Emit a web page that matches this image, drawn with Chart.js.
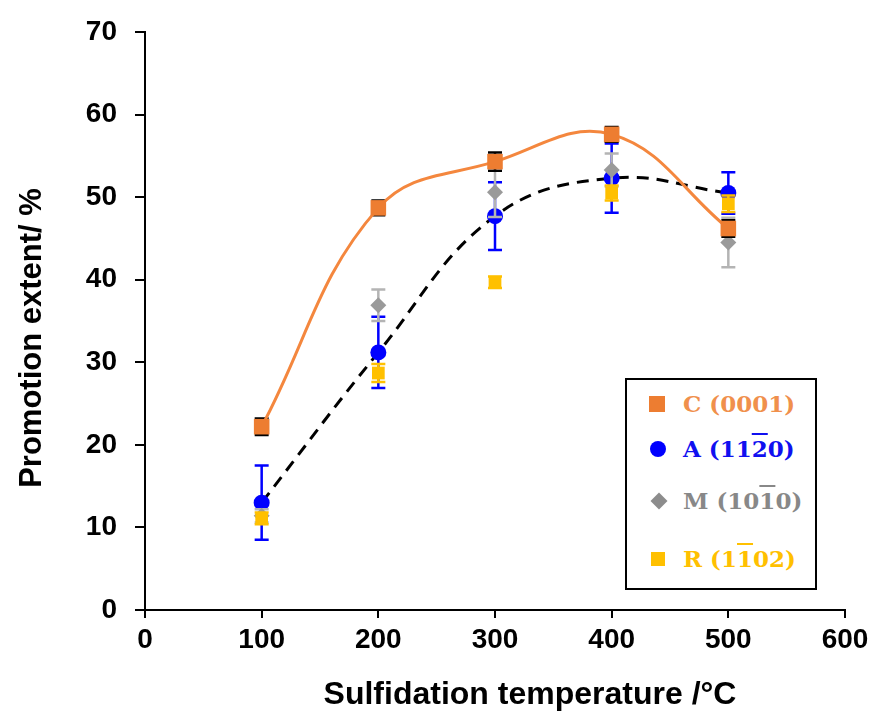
<!DOCTYPE html>
<html>
<head>
<meta charset="utf-8">
<script src="https://cdn.jsdelivr.net/npm/chart.js@4.4.0/dist/chart.umd.min.js"></script>
<style>
  body { margin: 0; background: #fff; }
  #wrap { position: relative; width: 873px; height: 716px; }
  #legenda {
    position: absolute; left: 625px; top: 378px; width: 188px; height: 208px;
    border: 2px solid #000; background: #fff;
    font-family: "DejaVu Serif", serif; font-weight: bold; font-size: 23px;
  }
  .item { position: absolute; left: 0; height: 30px; line-height: 30px; white-space: nowrap; }
  .item .txt { position: absolute; left: 56px; top: 0; }
  .mk { position: absolute; }
  .ov { text-decoration: overline; }
</style>
</head>
<body>
<div id="wrap">
  <canvas id="grafico" width="873" height="716"></canvas>
  <div id="legenda">
    <div class="item" style="top:9px">
      <div class="mk" style="left:22px;top:7px;width:16px;height:16px;background:#ED7D31"></div>
      <span class="txt" style="color:#F0904C">C (0001)</span>
    </div>
    <div class="item" style="top:54px">
      <div class="mk" style="left:23px;top:7px;width:16px;height:16px;border-radius:50%;background:#0000FF"></div>
      <span class="txt" style="color:#1010F0">A (11<span class="ov">2</span>0)</span>
    </div>
    <div class="item" style="top:106px">
      <div class="mk" style="left:26px;top:9px;width:12px;height:12px;background:#8C8C8C;transform:rotate(45deg)"></div>
      <span class="txt" style="color:#888">M (10<span class="ov">1</span>0)</span>
    </div>
    <div class="item" style="top:164px">
      <div class="mk" style="left:24px;top:8px;width:14px;height:14px;background:#FFC000"></div>
      <span class="txt" style="color:#FFC000">R (1<span class="ov">1</span>02)</span>
    </div>
  </div>
</div>
<script>
var temperaturas = [100, 200, 300, 400, 500];

var valoresC = [22.2, 48.7, 54.3, 57.6, 46.2];
var errosC   = [1.0, 0.9, 1.1, 0.9, 1.0];

var valoresA = [13.0, 31.2, 47.7, 52.3, 50.5];
var errosA   = [4.5, 4.3, 4.1, 4.2, 2.5];

var valoresM = [11.4, 36.9, 50.6, 53.3, 44.5];
var errosM   = [0.8, 1.9, 3.0, 2.0, 3.0];

var valoresR = [11.1, 28.7, 39.7, 50.5, 49.2];
var errosR   = [0.7, 1.1, 0.7, 0.9, 1.0];

var ticksX = [0, 100, 200, 300, 400, 500, 600];
var ticksY = [0, 10, 20, 30, 40, 50, 60, 70];

function pontos(valores) {
    return temperaturas.map(function (t, i) { return { x: t, y: valores[i] }; });
}

// barras de erro desenhadas com as escalas do grafico
var barrasDeErro = {
    id: 'barrasDeErro',
    beforeDatasetDraw: function (chart, args) {
        var ds = chart.data.datasets[args.index];
        if (!ds.erros) return;
        var ctx = chart.ctx;
        var sx = chart.scales.x, sy = chart.scales.y;
        ctx.save();
        ctx.strokeStyle = ds.corErro;
        ctx.lineWidth = 2.5;
        ds.data.forEach(function (p, i) {
            var x = sx.getPixelForValue(p.x);
            var y1 = sy.getPixelForValue(p.y + ds.erros[i]);
            var y2 = sy.getPixelForValue(p.y - ds.erros[i]);
            ctx.beginPath();
            ctx.moveTo(x, y1); ctx.lineTo(x, y2);
            ctx.moveTo(x - 7, y1); ctx.lineTo(x + 7, y1);
            ctx.moveTo(x - 7, y2); ctx.lineTo(x + 7, y2);
            ctx.stroke();
        });
        ctx.restore();
    }
};

var titulos = {
    id: 'titulos',
    afterDraw: function (chart) {
        var ctx = chart.ctx;
        ctx.save();
        ctx.fillStyle = '#000';
        ctx.textAlign = 'center';
        ctx.textBaseline = 'middle';
        ctx.font = 'bold 32px "Liberation Sans", Arial, sans-serif';
        ctx.fillText('Sulfidation temperature /°C', 530, 695);
        ctx.font = 'bold 31px "Liberation Sans", Arial, sans-serif';
        ctx.translate(32, 338);
        ctx.rotate(-Math.PI / 2);
        ctx.fillText('Promotion extent/ %', 0, 0);
        ctx.restore();
    }
};

var fonteTicks = { family: '"Liberation Sans", Arial, sans-serif', size: 28, weight: 'bold' };

var ctx = document.getElementById('grafico');
var grafico = new Chart(ctx, {
    type: 'line',
    data: {
        datasets: [
            {
                label: 'C (0001)', data: pontos(valoresC), erros: errosC, corErro: '#000',
                borderColor: '#F4873E', borderWidth: 3, tension: 0.4,
                pointStyle: 'rect', pointRadius: 11, pointBackgroundColor: '#ED7D31',
                pointBorderColor: '#ED7D31', pointBorderWidth: 0
            },
            {
                label: 'R', data: pontos(valoresR), erros: errosR, corErro: '#FFC000',
                showLine: false, pointStyle: 'rect', pointRadius: 9,
                pointBackgroundColor: '#FFC000', pointBorderColor: '#FFC000', pointBorderWidth: 0
            },
            {
                label: 'M', data: pontos(valoresM), erros: errosM, corErro: '#B4B4B4',
                showLine: false, pointStyle: 'rectRot', pointRadius: 8,
                pointBackgroundColor: '#9A9A9A', pointBorderColor: '#9A9A9A', pointBorderWidth: 0
            },
            {
                label: 'A', data: pontos(valoresA), erros: errosA, corErro: '#0000FF',
                borderColor: '#000', borderWidth: 3, borderDash: [12, 8], tension: 0.4,
                pointStyle: 'circle', pointRadius: 8,
                pointBackgroundColor: '#0000FF', pointBorderColor: '#0000FF', pointBorderWidth: 0
            }
        ]
    },
    options: {
        responsive: false,
        animation: false,
        layout: { padding: { top: 32, right: 28, left: 0, bottom: 0 } },
        plugins: { legend: { display: false }, tooltip: { enabled: false } },
        scales: {
            x: {
                type: 'linear', min: 0, max: 600,
                afterBuildTicks: function (s) { s.ticks = ticksX.map(function (v) { return { value: v }; }); },
                afterFit: function (s) { s.height = 106; s.paddingLeft = 0; s.paddingRight = 0; },
                grid: { drawOnChartArea: false, drawTicks: true, tickLength: 8, color: '#000', lineWidth: 2 },
                border: { color: '#000', width: 2 },
                ticks: { color: '#000', font: fonteTicks, padding: 5, maxRotation: 0 }
            },
            y: {
                min: 0, max: 70,
                afterBuildTicks: function (s) { s.ticks = ticksY.map(function (v) { return { value: v }; }); },
                afterFit: function (s) { s.width = 145; s.paddingTop = 0; s.paddingBottom = 0; },
                grid: { drawOnChartArea: false, drawTicks: true, tickLength: 10, color: '#000', lineWidth: 2 },
                border: { color: '#000', width: 2 },
                ticks: { color: '#000', font: fonteTicks, padding: 18 }
            }
        }
    },
    plugins: [barrasDeErro, titulos]
});
</script>
</body>
</html>
